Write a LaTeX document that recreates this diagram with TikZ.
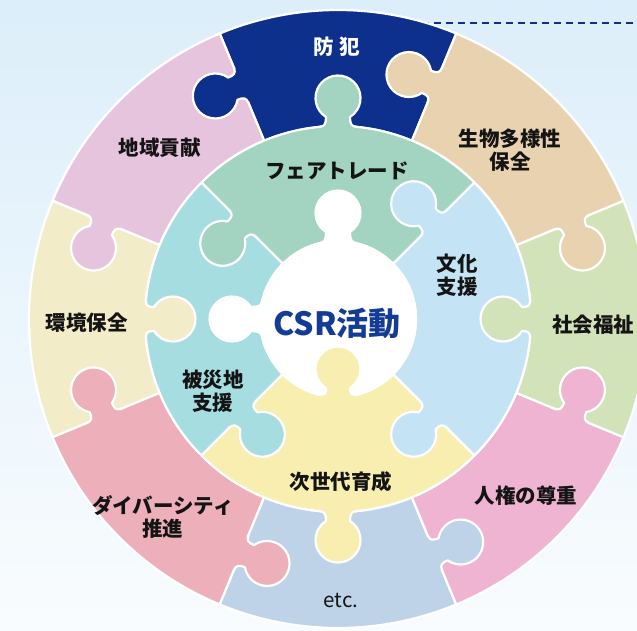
\documentclass[tikz,border=0pt]{standalone}
\usepackage{fontspec}
\newfontfamily\jp{Noto Sans CJK JP}
\definecolor{bgtop}{HTML}{DCEEFA}
\definecolor{bgbot}{HTML}{F9FCFE}
\definecolor{cNavy}{HTML}{0C308C}
\definecolor{cMauve}{HTML}{E6C4DE}
\definecolor{cBeige}{HTML}{E9D2B0}
\definecolor{cSage}{HTML}{D2E2B9}
\definecolor{cPink}{HTML}{EFB4D2}
\definecolor{cSteel}{HTML}{BED3E8}
\definecolor{cRose}{HTML}{EDAFB9}
\definecolor{cIvory}{HTML}{F2EDC8}
\definecolor{cFair}{HTML}{A3D4C1}
\definecolor{cBlue}{HTML}{C4E4F6}
\definecolor{cTeal}{HTML}{A6DDE0}
\definecolor{cYellow}{HTML}{F7EEB0}
\definecolor{cCSR}{HTML}{143C96}
\definecolor{cText}{HTML}{141414}
\tikzset{
  seam/.style={draw=white, line width=2.2pt, line join=round, line cap=round},
  lbl/.style={font=\jp\bfseries\fontsize{20.5}{23}\selectfont, text=cText, align=center, inner sep=0pt},
}
\newcommand\puzzleknob[5]{%
  \begin{scope}[shift={(#1)}, rotate=#2, yscale=#3]
    \fill[#4] (-19,#5) .. controls (-13,#5) and (-12,3) .. (-12,8.97)
      arc[start angle=237.76, end angle=-57.76, radius=22.5]
      .. controls (12,3) and (13,#5) .. (19,#5) -- (13,-3.5) -- (-13,-3.5) -- cycle;
    \draw[seam] (-19,#5) .. controls (-13,#5) and (-12,3) .. (-12,8.97)
      arc[start angle=237.76, end angle=-57.76, radius=22.5]
      .. controls (12,3) and (13,#5) .. (19,#5);
  \end{scope}}
\begin{document}
\begin{tikzpicture}[x=1pt,y=1pt]
\useasboundingbox (-338,-311) rectangle (299,319);
\shade[top color=bgtop, bottom color=bgbot] (-338,-311) rectangle (299,319);
\coordinate (dashA) at (60,296);
\coordinate (dashB) at (299,296);
\draw[cNavy, line width=2.2pt, dash pattern=on 7pt off 5pt] (dashA) -- (dashB);
% outer ring
\foreach \a/\c in {67.5/cNavy, 112.5/cMauve, 157.5/cIvory, 202.5/cRose, 247.5/cSteel, 292.5/cPink, 337.5/cSage, 22.5/cBeige}{
  \filldraw[fill=\c, seam] (\a:193) arc[start angle=\a, end angle=\a+45, radius=193]
    -- (\a+45:309) arc[start angle=\a+45, end angle=\a, radius=309] -- cycle;
}
% inner ring
\foreach \a/\c in {45/cFair, 135/cTeal, 225/cYellow, -45/cBlue}{
  \filldraw[fill=\c, seam] (\a:78) arc[start angle=\a, end angle=\a+90, radius=78]
    -- (\a+90:193) arc[start angle=\a+90, end angle=\a, radius=193] -- cycle;
}
\filldraw[fill=white, seam] (0,0) circle[radius=78];
% knobs: centre / inner ring
\puzzleknob{90:78}{0}{1}{white}{-2.31}
\puzzleknob{180:78}{90}{1}{white}{-2.31}
\puzzleknob{270:78}{0}{1}{cYellow}{2.31}
% inner ring / outer ring
\puzzleknob{90:193}{0}{1}{cFair}{-0.94}
\puzzleknob{0:193}{90}{1}{cSage}{0.94}
\puzzleknob{180:193}{270}{1}{cIvory}{0.94}
\puzzleknob{270:193}{180}{1}{cYellow}{-0.94}
% inner ring radial
\puzzleknob{45:135}{45}{1}{cBlue}{0}
\puzzleknob{135:135}{135}{1}{cFair}{0}
\puzzleknob{225:135}{225}{1}{cTeal}{0}
\puzzleknob{315:135}{315}{-1}{cBlue}{0}
% outer ring radial
\puzzleknob{112.5:253}{112.5}{1}{cNavy}{0}
\puzzleknob{67.5:253}{67.5}{1}{cBeige}{0}
\puzzleknob{22.5:253}{22.5}{-1}{cBeige}{0}
\puzzleknob{337.5:253}{337.5}{1}{cPink}{0}
\puzzleknob{292.5:253}{292.5}{1}{cSteel}{0}
\puzzleknob{247.5:253}{247.5}{1}{cRose}{0}
\puzzleknob{202.5:253}{202.5}{-1}{cRose}{0}
\puzzleknob{157.5:253}{157.5}{1}{cMauve}{0}
% labels
\node[lbl, text=white] (bouhan) at (-1,272) {防\hspace{5pt}犯};
\node[lbl] (chiiki) at (-178,171) {地域貢献};
\node[lbl] (seibutsu) at (172,169) {生物多様性\\保全};
\node[lbl] (shakai) at (255,-6) {社会福祉};
\node[lbl] (jinken) at (188,-177) {人権の尊重};
\node[lbl, font=\jp\fontsize{20.5}{23}\selectfont] (etc) at (3,-281) {etc.};
\node[lbl] (diversity) at (-175,-198) {ダイバーシティ\\推進};
\node[lbl] (kankyo) at (-251,-4) {環境保全};
\node[lbl] (fair) at (-1,148) {フェアトレード};
\node[lbl] (bunka) at (119,44) {文化\\支援};
\node[lbl] (hisai) at (-125,-72) {被災地\\支援};
\node[lbl] (jisedai) at (3,-163) {次世代育成};
\node[lbl, text=cCSR, font=\jp\bfseries\fontsize{32}{35}\selectfont] (csr) at (-1,-4) {CSR活動};
\end{tikzpicture}
\end{document}
